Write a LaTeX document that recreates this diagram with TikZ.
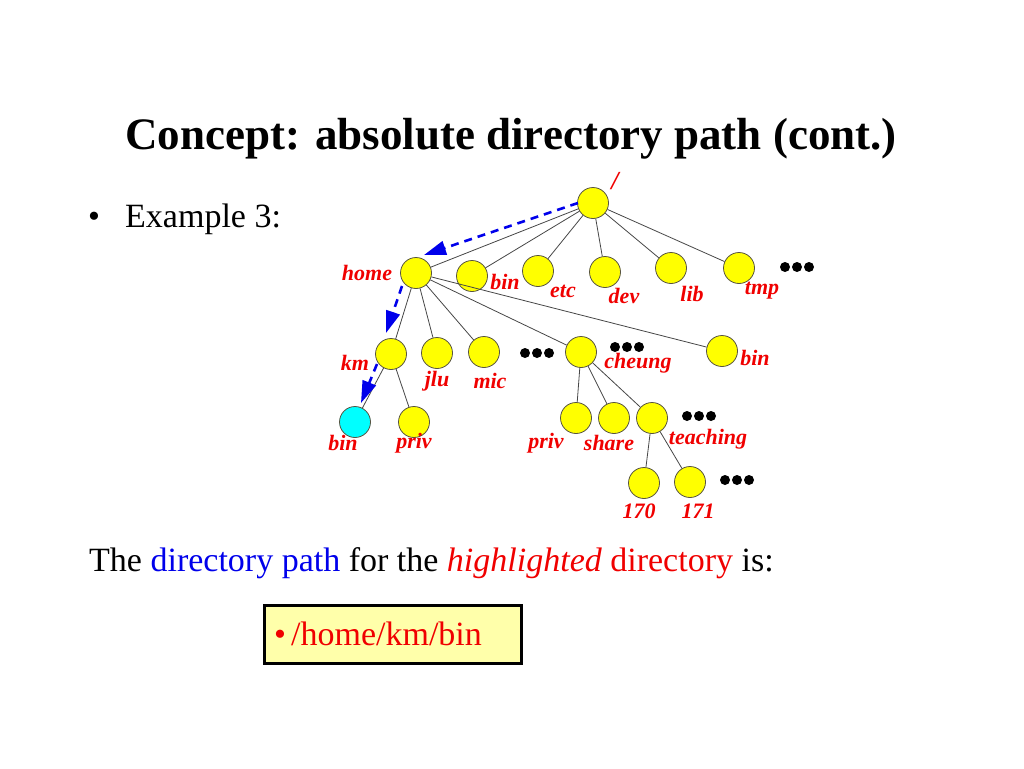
\documentclass[tikz,border=0pt]{standalone}
\usepackage{fontspec}
\setmainfont{Liberation Serif}
\usetikzlibrary{arrows.meta}
\definecolor{nodeyel}{RGB}{255,255,0}
\definecolor{nodecyan}{RGB}{0,255,255}
\definecolor{edgegray}{RGB}{70,70,70}
\definecolor{labred}{RGB}{240,0,0}
\definecolor{boxyel}{RGB}{255,255,170}
\definecolor{pathblue}{RGB}{0,0,235}
\tikzset{
  dir/.style={circle, draw=black!60!yellow!60!black, line width=0.8pt, fill=nodeyel, minimum size=31pt, inner sep=0pt},
  hidir/.style={dir, fill=nodecyan},
  lab/.style={text=labred, font=\fontsize{22}{22}\selectfont\bfseries\itshape, inner sep=0pt},
  edge/.style={draw=edgegray, line width=0.8pt},
  walk/.style={draw=pathblue, line width=2.6pt, dash pattern=on 8pt off 6pt, -{Triangle[length=22pt,width=14pt]}},
  dot/.style={circle, fill=black, minimum size=10pt, inner sep=0pt},
}
\begin{document}
\begin{tikzpicture}[x=1pt,y=-1pt]
\useasboundingbox (0,0) rectangle (1024,768);
% title
\node[anchor=base west, inner sep=0pt, font=\fontsize{45}{45}\selectfont\bfseries] (title) at (125,149) {Concept: absolute directory path (cont.)};
\node[anchor=base west, inner sep=0pt, font=\fontsize{34}{34}\selectfont] (ex) at (88,227) {•};
\node[anchor=base west, inner sep=0pt, font=\fontsize{34}{34}\selectfont] (ex2) at (125,227) {Example 3:};
% nodes
\node[dir] (root) at (593,203) {};
\node[dir] (home) at (416,273) {};
\node[dir] (bin) at (472,276) {};
\node[dir] (etc) at (538,271) {};
\node[dir] (dev) at (605,272) {};
\node[dir] (lib) at (671,268) {};
\node[dir] (tmp) at (739,268) {};
\node[dir] (km) at (391,354) {};
\node[dir] (jlu) at (437,353) {};
\node[dir] (mic) at (484,352) {};
\node[dir] (cheung) at (581,352) {};
\node[dir] (binb) at (722,351) {};
\node[hidir] (kbin) at (355,422) {};
\node[dir] (kpriv) at (414,422) {};
\node[dir] (cpriv) at (576,418) {};
\node[dir] (share) at (614,418) {};
\node[dir] (teach) at (652,418) {};
\node[dir] (n170) at (644,483) {};
\node[dir] (n171) at (690,482) {};
% dots
\foreach \n/\x/\y in {d1/797/267, d2/537/353, d3/627/347, d4/699/416, d5/737/480}{
  \node[dot] (\n a) at (\x-12,\y) {};
  \node[dot] (\n b) at (\x,\y) {};
  \node[dot] (\n c) at (\x+12,\y) {};
}
% edges
\foreach \a/\b in {root/home, root/bin, root/etc, root/dev, root/lib, root/tmp,
  home/km, home/jlu, home/mic, home/cheung, home/binb, km/kbin, km/kpriv,
  cheung/cpriv, cheung/share, cheung/teach, teach/n170, teach/n171}{
  \path[edge] (\a) -- (\b);
}
% labels
\node[lab, font=\fontsize{26}{26}\selectfont\bfseries\itshape] (lroot) at (615,181) {/};
\node[lab] (lhome) at (367,273) {home};
\node[lab] (lbin) at (505,282) {bin};
\node[lab] (letc) at (563,291) {etc};
\node[lab] (ldev) at (624,296) {dev};
\node[lab] (llib) at (692,294) {lib};
\node[lab] (ltmp) at (762,291) {tmp};
\node[lab] (lkm) at (355,363) {km};
\node[lab] (ljlu) at (437,381) {jlu};
\node[lab] (lmic) at (490,381) {mic};
\node[lab] (lcheung) at (638,363) {cheung};
\node[lab] (lbinb) at (755,358) {bin};
\node[lab] (lkbin) at (343,443) {bin};
\node[lab] (lkpriv) at (414,443) {priv};
\node[lab] (lcpriv) at (546,443) {priv};
\node[lab] (lshare) at (609,443) {share};
\node[lab] (lteach) at (708,439) {teaching};
\node[lab] (l170) at (639,511) {170};
\node[lab] (l171) at (698,511) {171};
% walk arrows
\coordinate (w1s) at (578,203);
\coordinate (w1e) at (424,255);
\draw[walk] (w1s) -- (w1e);
\coordinate (w2s) at (402,286);
\coordinate (w2e) at (386,333);
\draw[walk] (w2s) -- (w2e);
\coordinate (w3s) at (377,364);
\coordinate (w3e) at (361,403);
\draw[walk] (w3s) -- (w3e);
% sentence
\node[anchor=base west, inner sep=0pt, font=\fontsize{34}{34}\selectfont] (sent) at (89,571)
  {The \textcolor{pathblue}{directory path} for the \textcolor{labred}{\itshape highlighted} \textcolor{labred}{directory} is:};
% answer box
\node[draw=black, line width=3pt, fill=boxyel, minimum width=257pt, minimum height=58pt, inner sep=0pt] (box) at (392.5,634) {};
\node[anchor=base west, inner sep=0pt, text=labred, font=\fontsize{34}{34}\selectfont] (ans) at (274,645) {•\hspace{5pt}/home/km/bin};
\end{tikzpicture}
\end{document}
